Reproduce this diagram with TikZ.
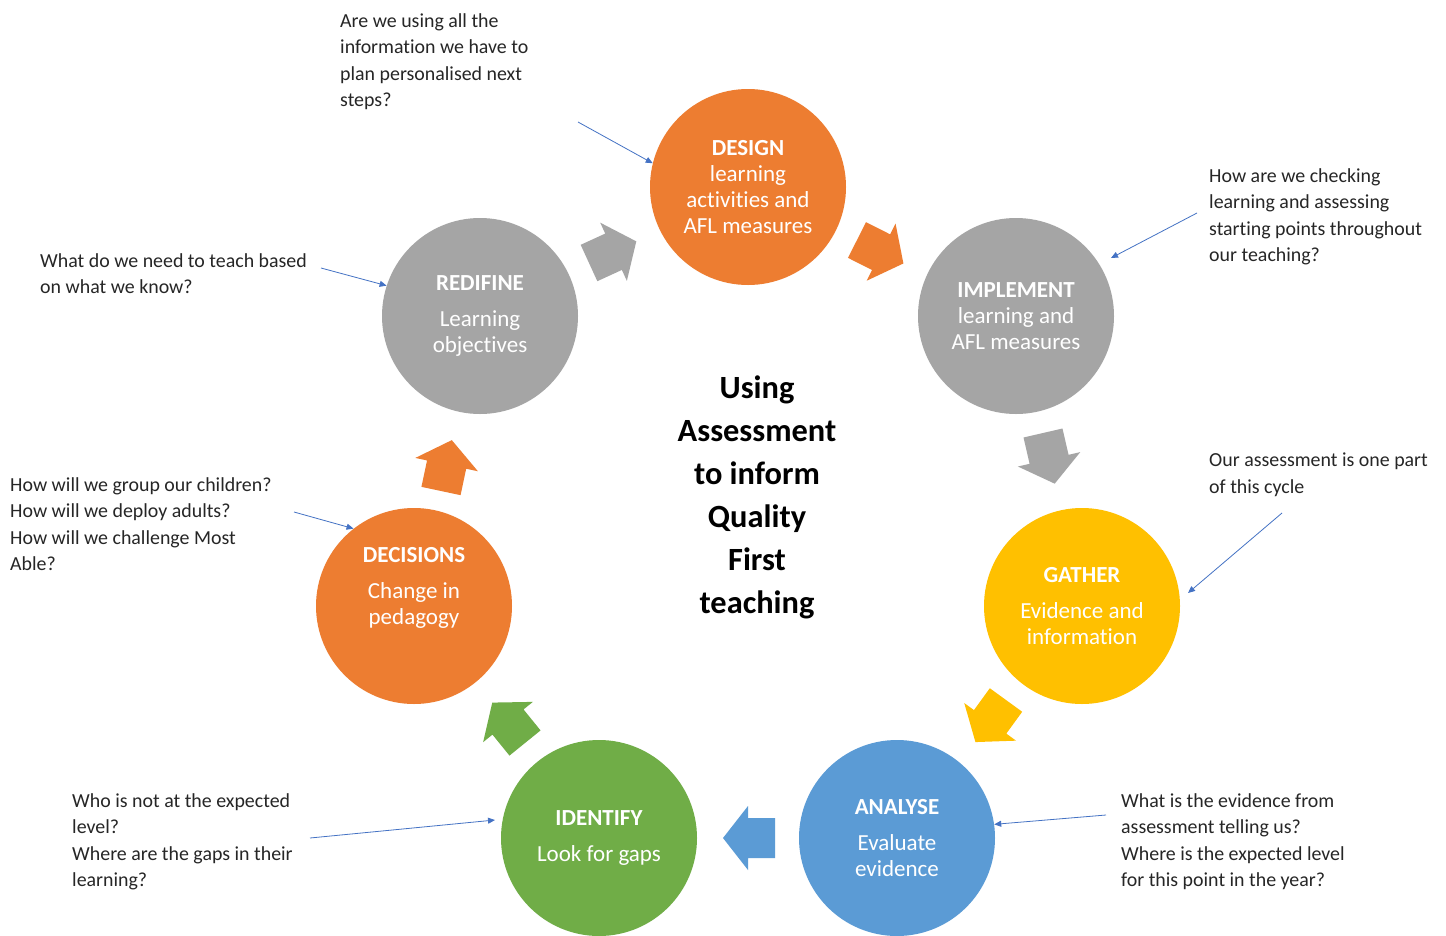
\documentclass[tikz,border=0pt]{standalone}
\usepackage{fontspec}
\setmainfont{Carlito}[Ligatures=NoCommon]
\usetikzlibrary{arrows.meta}
\definecolor{corange}{HTML}{ED7D31}
\definecolor{cgray}{HTML}{A5A5A5}
\definecolor{cyellow}{HTML}{FFC000}
\definecolor{cblue}{HTML}{5B9BD5}
\definecolor{cgreen}{HTML}{70AD47}
\definecolor{clink}{HTML}{4472C4}
\newcommand\blockarr[4]{\fill[#4,shift={(#1,#2)},rotate=#3] (0,-20) -- (27,-20) -- (27,-32) -- (52,0) -- (27,32) -- (27,20) -- (0,20) -- cycle;}
\begin{document}
\begin{tikzpicture}[x=1pt,y=-1pt,
  stage/.style={circle,fill=#1,minimum size=196pt,inner sep=0pt,text=white,align=center,font=\fontsize{23}{26}\selectfont},
  stagetext/.style={inner sep=0pt,text=white,align=center,font=\fontsize{23}{26}\selectfont},
  note/.style={anchor=north west,inner sep=0pt,align=left,text=black!85,font=\fontsize{19.9}{26.5}\selectfont},
  link/.style={draw=clink,line width=0.8pt,-{Triangle[length=7pt,width=6pt]}}]
\useasboundingbox (0,0) rectangle (1446,935);
\fill[white] (0,0) rectangle (1446,935);

% stages
\node[stage=corange] (design) at (748,187) {\textbf{DESIGN}\\learning\\activities and\\AFL measures};
\node[stage=cgray] (implement) at (1016,316) {\textbf{IMPLEMENT}\\learning and\\AFL measures};
\node[stage=cyellow] (gather) at (1082,606) {\textbf{GATHER}\\[10pt]Evidence and\\information};
\node[stage=cblue] (analyse) at (897,838) {\textbf{ANALYSE}\\[10pt]Evaluate\\evidence};
\node[stage=cgreen] (identify) at (599,838) {\textbf{IDENTIFY}\\[10pt]Look for gaps};
\node[stage=corange] (decisions) at (414,606) {};
\node[stagetext] (decisionsT) at (414,588) {\textbf{DECISIONS}\\[10pt]Change in\\pedagogy};
\node[stage=cgray] (redifine) at (480,316) {\textbf{REDIFINE}\\[10pt]Learning\\objectives};

% centre title
\node[align=center,font=\fontsize{32.4}{43}\selectfont\bfseries] (title) at (757,497) {Using\\Assessment\\to inform\\Quality\\First\\teaching};

% block arrows
\blockarr{589}{263}{24.6}{cgray}
\blockarr{857}{240}{-26.8}{corange}
\blockarr{1043}{433}{-77}{cgray}
\blockarr{1006}{700}{-126}{cyellow}
\blockarr{775}{838}{180}{cblue}
\blockarr{525}{743}{129}{cgreen}
\blockarr{441}{491}{78}{corange}

% notes
\node[note] (q1) at (340,13) {Are we using all the\\information we have to\\plan personalised next\\steps?};
\node[note] (q2) at (1209,168) {How are we checking\\learning and assessing\\starting points throughout\\our teaching?};
\node[note] (q3) at (40,253) {What do we need to teach based\\on what we know?};
\node[note] (q4) at (1209,453) {Our assessment is one part\\of this cycle};
\node[note] (q5) at (10,477) {How will we group our children?\\How will we deploy adults?\\How will we challenge Most\\Able?};
\node[note] (q6) at (72,793) {Who is not at the expected\\level?\\Where are the gaps in their\\learning?};
\node[note] (q7) at (1121,793) {What is the evidence from\\assessment telling us?\\Where is the expected level\\for this point in the year?};

% pointer lines
\coordinate (p1) at (578,122);
\coordinate (p2) at (1197,213);
\coordinate (t2) at (1111,258);
\coordinate (p3) at (321,268);
\coordinate (p4) at (1282,513);
\coordinate (t4) at (1188,593);
\coordinate (p5) at (294,512);
\coordinate (p6) at (310,838);
\coordinate (t6) at (495,820);
\coordinate (p7) at (1106,815);
\draw[link] (p1) -- (design.166);
\draw[link] (p2) -- (t2);
\draw[link] (p3) -- (redifine.162);
\draw[link] (p4) -- (t4);
\draw[link] (p5) -- (decisions.128);
\draw[link] (p6) -- (t6);
\draw[link] (p7) -- (analyse.8);
\end{tikzpicture}
\end{document}
